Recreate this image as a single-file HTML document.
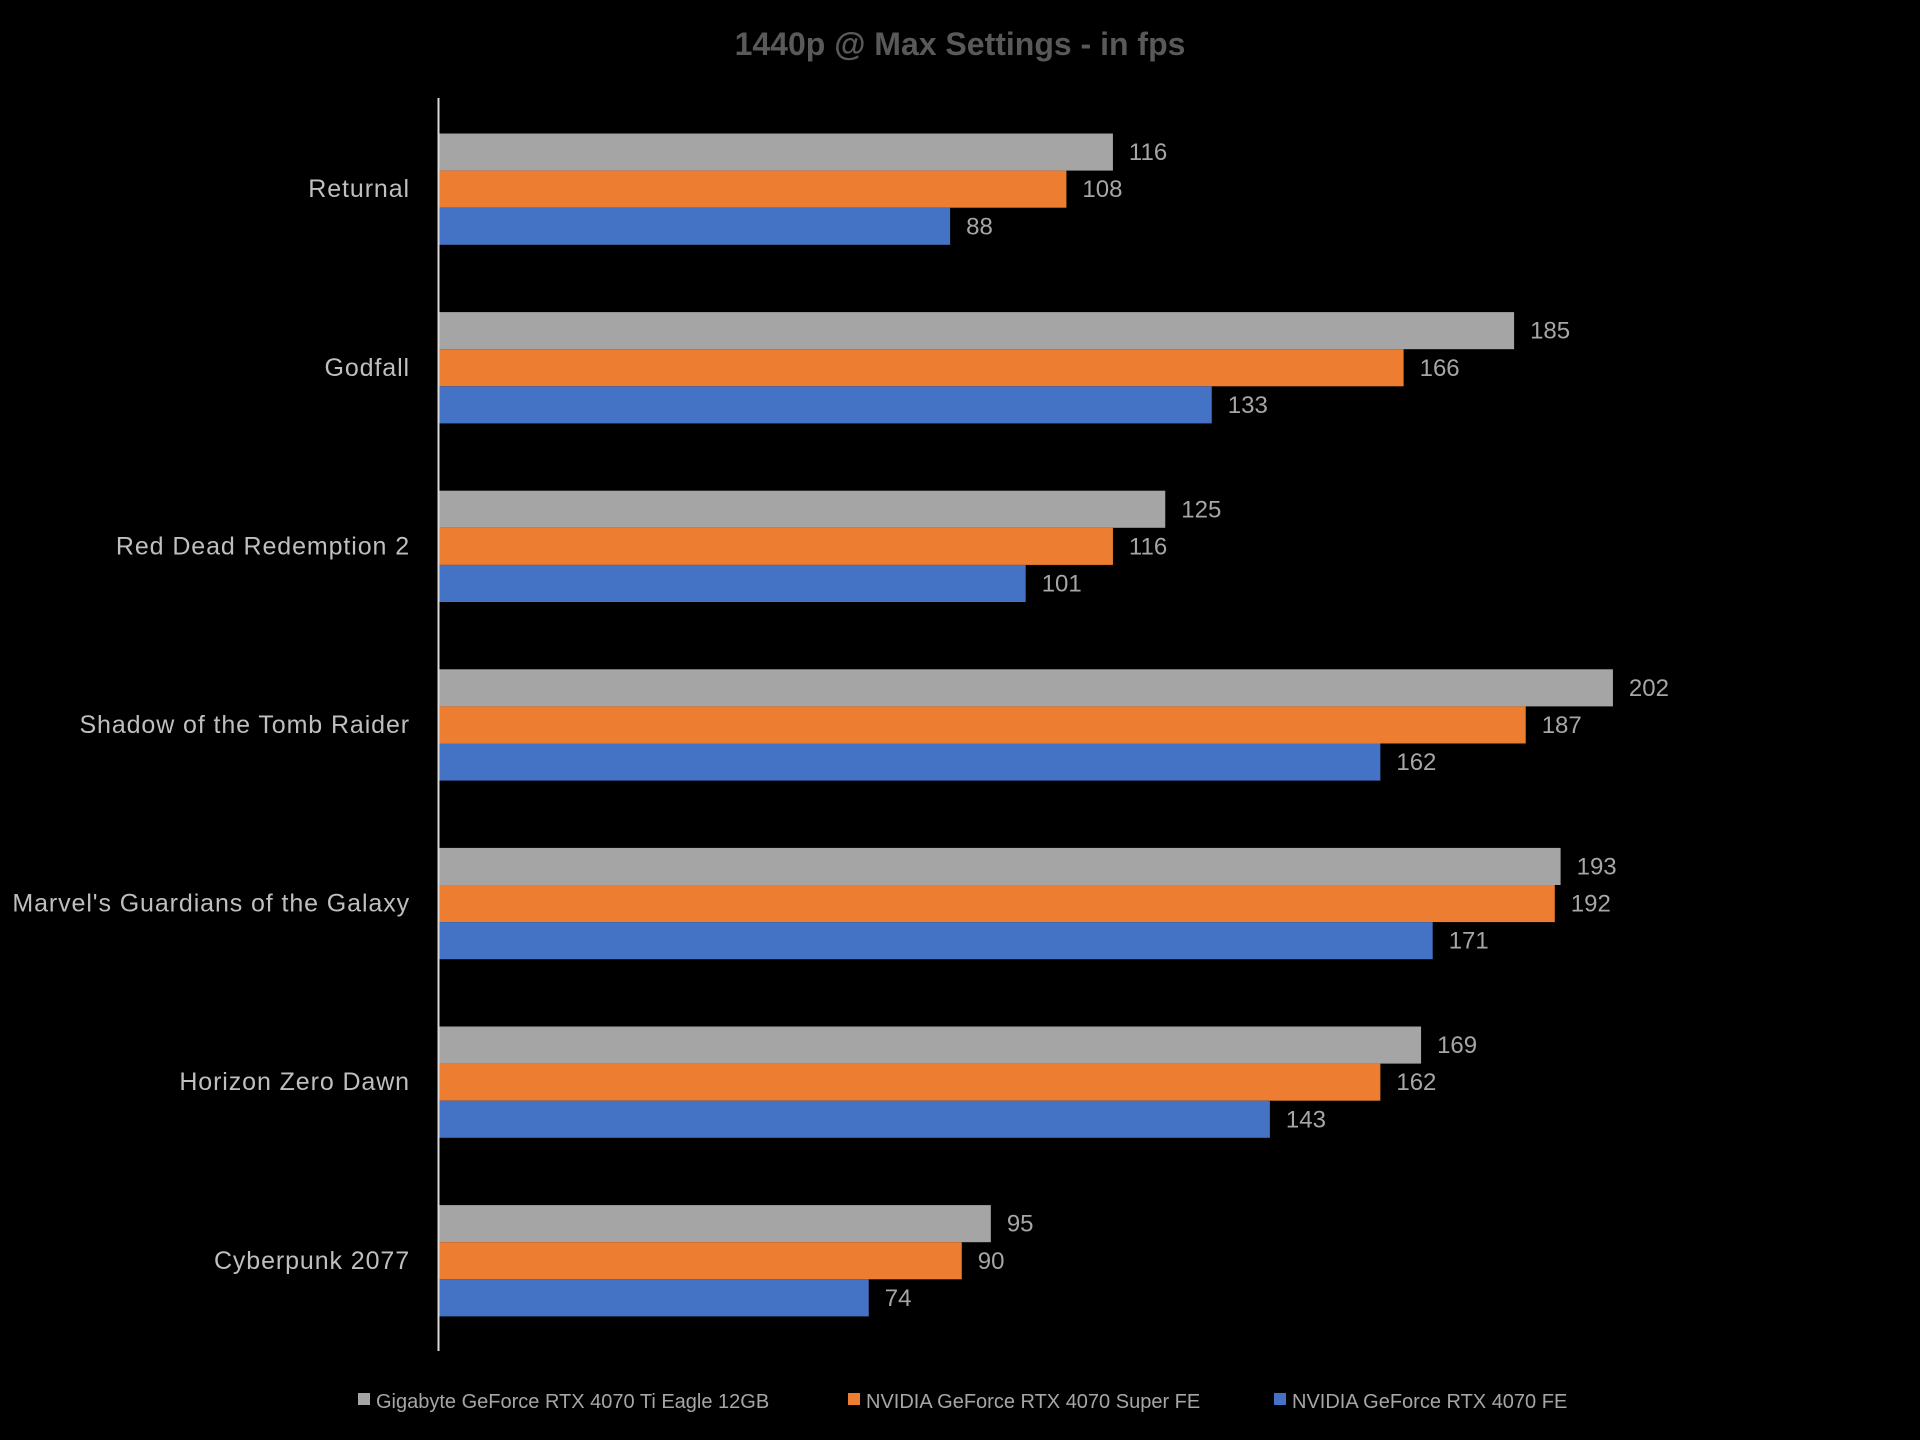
<!DOCTYPE html>
<html><head><meta charset="utf-8">
<style>
html,body{margin:0;padding:0;background:#000;}
svg{display:block;font-family:"Liberation Sans",Calibri,sans-serif;}
</style></head>
<body>
<svg id="chart" width="1920" height="1440" viewBox="0 0 1920 1440">
<rect width="1920" height="1440" fill="#000"/>
<text x="960" y="55" text-anchor="middle" font-size="32" font-weight="bold" fill="#595959">1440p @ Max Settings - in fps</text>
<g id="bars"></g>
<line x1="438.5" y1="98" x2="438.5" y2="1351" stroke="#d9d9d9" stroke-width="2"/>
<g font-size="20" fill="#a6a6a6">
<g><rect x="358" y="1393" width="12" height="12" fill="#a5a5a5"/><text x="376" y="1408">Gigabyte GeForce RTX 4070 Ti Eagle 12GB</text></g>
<g><rect x="848" y="1393" width="12" height="12" fill="#ed7d31"/><text x="866" y="1408">NVIDIA GeForce RTX 4070 Super FE</text></g>
<g><rect x="1274" y="1393" width="12" height="12" fill="#4472c4"/><text x="1292" y="1408">NVIDIA GeForce RTX 4070 FE</text></g>
</g>
</svg>
<script>
const categories = ["Returnal","Godfall","Red Dead Redemption 2","Shadow of the Tomb Raider","Marvel's Guardians of the Galaxy","Horizon Zero Dawn","Cyberpunk 2077"];
const gigabyteValues = [116,185,125,202,193,169,95];
const superValues = [108,166,116,187,192,162,90];
const baseValues = [88,133,101,162,171,143,74];
const seriesNames = ["gigabyte","super","base"];

const colors = ["#a5a5a5","#ed7d31","#4472c4"];
const x0 = 438.5, pxPerUnit = 5.814;
const groupTop = 133.5, groupPitch = 178.6, barH = 37.1;
function xScale(v){ return x0 + v * pxPerUnit; }
function yBand(i, s){ return groupTop + i * groupPitch + s * barH; }
const NS = "http://www.w3.org/2000/svg";
const g = document.getElementById("bars");
const series = [gigabyteValues, superValues, baseValues];
categories.forEach((cat, i) => {
  const lbl = document.createElementNS(NS, "text");
  lbl.setAttribute("x", 410);
  lbl.setAttribute("y", yBand(i, 1.5) + 8);
  lbl.setAttribute("text-anchor", "end");
  lbl.setAttribute("font-size", "25");
  lbl.setAttribute("letter-spacing", "0.9");
  lbl.setAttribute("fill", "#bfbfbf");
  lbl.textContent = cat;
  
  
  g.appendChild(lbl);
  series.forEach((vals, s) => {
    const r = document.createElementNS(NS, "rect");
    r.setAttribute("x", x0);
    r.setAttribute("y", yBand(i, s));
    r.setAttribute("width", xScale(vals[i]) - x0);
    r.setAttribute("height", barH);
    r.setAttribute("fill", colors[s]);
    
    
    g.appendChild(r);
    const t = document.createElementNS(NS, "text");
    t.setAttribute("x", xScale(vals[i]) + 16);
    t.setAttribute("y", yBand(i, s) + barH / 2 + 8);
    t.setAttribute("font-size", "24");
    t.setAttribute("fill", "#a6a6a6");
    t.textContent = vals[i];
    
    
    g.appendChild(t);
  });
});
</script>
</body></html>
